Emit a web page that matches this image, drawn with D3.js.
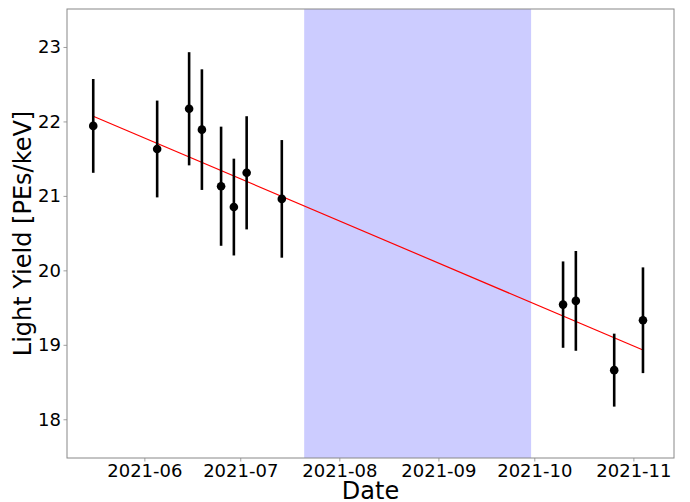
<!DOCTYPE html>
<html>
<head>
<meta charset="utf-8">
<script src="https://cdn.jsdelivr.net/npm/d3@7"></script>
<style>
  html, body { margin: 0; padding: 0; background: #fff; }
  svg { display: block; font-family: "DejaVu Sans", sans-serif; }
</style>
</head>
<body>
<svg id="chart" width="690" height="502"></svg>
<script>
// Light-yield measurements with uncertainties
const dates = ["2021-05-16", "2021-06-05", "2021-06-15", "2021-06-19", "2021-06-25", "2021-06-29",
               "2021-07-03", "2021-07-14", "2021-10-10", "2021-10-14", "2021-10-26", "2021-11-04"];
const lightYield = [21.94, 21.63, 22.17, 21.89, 21.13, 20.85, 21.31, 20.96, 19.54, 19.59, 18.66, 19.33];
const yieldErr  = [0.63, 0.65, 0.76, 0.81, 0.80, 0.65, 0.76, 0.79, 0.58, 0.67, 0.49, 0.71];

// Linear fit evaluated at its end points
const fitDates = ["2021-05-16", "2021-11-04"];
const fitValues = [22.07, 18.93];

// Shaded period
const shadeDates = ["2021-07-21", "2021-09-30"];

const xTickDates = ["2021-06-01", "2021-07-01", "2021-08-01", "2021-09-01", "2021-10-01", "2021-11-01"];
const yTicks = [18, 19, 20, 21, 22, 23];

const parse = d3.utcParse("%Y-%m-%d");
const fmt = d3.utcFormat("%Y-%m");

const margin = { left: 67, right: 16, top: 9, bottom: 44 };
const W = 690, H = 502;
const svg = d3.select("#chart");

const x = d3.scaleUtc()
  .domain([parse("2021-05-07").getTime() + 19 * 3600e3, parse("2021-11-13").getTime() + 17 * 3600e3])
  .range([margin.left, W - margin.right]);
const y = d3.scaleLinear()
  .domain([17.48, 23.51])
  .range([H - margin.bottom, margin.top]);

// Shaded band
svg.append("rect")
  .attr("x", x(parse(shadeDates[0])))
  .attr("y", margin.top)
  .attr("width", x(parse(shadeDates[1])) - x(parse(shadeDates[0])))
  .attr("height", y.range()[0] - margin.top)
  .attr("fill", "#ccccff");

// Fit line
svg.append("line")
  .attr("x1", x(parse(fitDates[0]))).attr("y1", y(fitValues[0]))
  .attr("x2", x(parse(fitDates[1]))).attr("y2", y(fitValues[1]))
  .attr("stroke", "#ff0000").attr("stroke-width", 1.2);

const pts = dates.map((d, i) => ({ t: parse(d), v: lightYield[i], e: yieldErr[i] }));

// Error bars
svg.append("g").selectAll("line").data(pts).join("line")
  .attr("x1", d => x(d.t)).attr("x2", d => x(d.t))
  .attr("y1", d => y(d.v - d.e)).attr("y2", d => y(d.v + d.e))
  .attr("stroke", "#000").attr("stroke-width", 2.6);

// Points
svg.append("g").selectAll("circle").data(pts).join("circle")
  .attr("cx", d => x(d.t)).attr("cy", d => y(d.v))
  .attr("r", 4.3).attr("fill", "#000");

// Axes
const xAxis = svg.append("g")
  .attr("transform", `translate(0,${H - margin.bottom})`)
  .call(d3.axisBottom(x).tickValues(xTickDates.map(parse)).tickFormat(fmt).tickSize(3.5).tickSizeOuter(0));
const yAxis = svg.append("g")
  .attr("transform", `translate(${margin.left},0)`)
  .call(d3.axisLeft(y).tickValues(yTicks).tickFormat(d3.format("d")).tickSize(3.5).tickSizeOuter(0));

[xAxis, yAxis].forEach(g => {
  g.select(".domain").remove();
  g.selectAll(".tick line").attr("stroke", "#888").attr("stroke-width", 0.8);
  g.selectAll(".tick text").attr("fill", "#000").style("font-size", "18px").style("font-family", "DejaVu Sans");
});
xAxis.selectAll(".tick text").attr("dy", "0.71em").attr("y", 6);
yAxis.selectAll(".tick text").attr("x", -6);

// Frame
svg.append("rect")
  .attr("x", margin.left).attr("y", margin.top)
  .attr("width", W - margin.right - margin.left)
  .attr("height", H - margin.bottom - margin.top)
  .attr("fill", "none").attr("stroke", "#888").attr("stroke-width", 1);

// Axis titles
svg.append("text")
  .attr("x", (margin.left + W - margin.right) / 2).attr("y", 499)
  .attr("text-anchor", "middle").style("font-size", "24px").text("Date");
svg.append("text")
  .attr("transform", `translate(31,${(margin.top + H - margin.bottom) / 2}) rotate(-90)`)
  .attr("text-anchor", "middle").style("font-size", "24px").text("Light Yield [PEs/keV]");
</script>
</body>
</html>
